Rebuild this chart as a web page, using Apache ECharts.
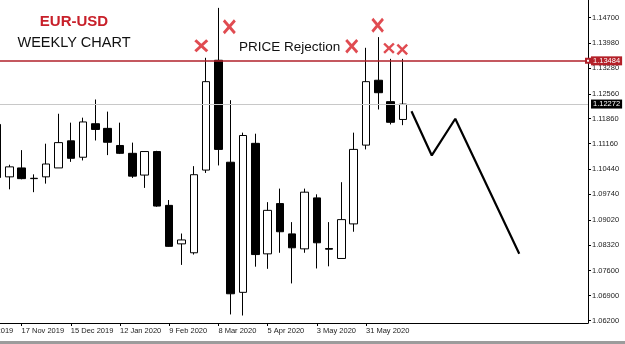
<!DOCTYPE html>
<html><head><meta charset="utf-8">
<script src="https://cdn.jsdelivr.net/npm/echarts@6/dist/echarts.min.js"></script>
<style>html,body{margin:0;padding:0;background:#fff;overflow:hidden}#c{width:625px;height:344px}</style>
</head><body><div id="c"></div>
<script>
// Weekly EUR-USD candles (week start dates), index 0 = 3 Nov 2019
const weeks = ['3 Nov 2019','10 Nov 2019','17 Nov 2019','24 Nov 2019','1 Dec 2019','8 Dec 2019','15 Dec 2019','22 Dec 2019','29 Dec 2019','5 Jan 2020','12 Jan 2020','19 Jan 2020','26 Jan 2020','2 Feb 2020','9 Feb 2020','16 Feb 2020','23 Feb 2020','1 Mar 2020','8 Mar 2020','15 Mar 2020','22 Mar 2020','29 Mar 2020','5 Apr 2020','12 Apr 2020','19 Apr 2020','26 Apr 2020','3 May 2020','10 May 2020','17 May 2020','24 May 2020','31 May 2020','7 Jun 2020','14 Jun 2020','21 Jun 2020'];
const opens  = [1.1170,1.1023,1.1048,1.1018,1.1023,1.1048,1.1124,1.1078,1.1172,1.1159,1.1111,1.1089,1.1028,1.1094,1.0943,1.0835,1.0810,1.1042,1.1350,1.1064,1.0699,1.1117,1.0807,1.0948,1.0863,1.0821,1.0964,1.0822,1.0794,1.0891,1.1112,1.1294,1.1234,1.1184];
const highs  = [1.1175,1.1057,1.1098,1.1030,1.1116,1.1200,1.1175,1.1189,1.1240,1.1206,1.1175,1.1119,1.1094,1.1096,1.0958,1.0864,1.1053,1.1357,1.1497,1.1238,1.1147,1.1144,1.0952,1.0990,1.0896,1.0990,1.0974,1.0896,1.1008,1.1147,1.1385,1.1415,1.1354,1.1354];
const lows   = [1.1010,1.0988,1.1016,1.0980,1.1004,1.1048,1.1065,1.1069,1.1125,1.1084,1.1087,1.1020,1.0992,1.0939,1.0827,1.0776,1.0805,1.1034,1.1055,1.0637,1.0634,1.0771,1.0765,1.0810,1.0724,1.0810,1.0766,1.0772,1.0794,1.0869,1.1100,1.1212,1.1170,1.1168];
const closes = [1.1021,1.1051,1.1018,1.1019,1.1059,1.1119,1.1075,1.1177,1.1156,1.1120,1.1089,1.1025,1.1094,1.0941,1.0828,1.0846,1.1029,1.1290,1.1100,1.0695,1.1139,1.0805,1.0929,1.0869,1.0824,1.0980,1.0838,1.0820,1.0903,1.1100,1.1290,1.1259,1.1176,1.1227];

// Axis ticks
const tickWeeks  = [-2,2,6,10,14,18,22,26,30];
const tickLabels = ['20 Oct 2019','17 Nov 2019','15 Dec 2019','12 Jan 2020','9 Feb 2020','8 Mar 2020','5 Apr 2020','3 May 2020','31 May 2020'];
const priceTicks = [1.14700,1.13980,1.13280,1.12560,1.11860,1.11160,1.10440,1.09740,1.09020,1.08320,1.07600,1.06900,1.06200];

// Levels
const resistance = 1.13484;
const lastPrice  = 1.12272;

// Hand-drawn projection path (week index, price)
const projWeek  = [33.7,35.35,37.26,42.46];
const projPrice = [1.1207,1.1083,1.1186,1.0807];

// Rejection crosses (week index, price, width, height)
const crossWeek  = [16.61,18.89,28.84,30.95,31.87,32.95];
const crossPrice = [1.13906,1.14439,1.13895,1.14484,1.13839,1.13802];
const crossW = [14,13,13,12.5,11.5,11.5];
const crossH = [13,15,14.5,15,11,11.5];

const candleData = weeks.map((w,i)=>[i, opens[i], closes[i], lows[i], highs[i]]);
const projData = projWeek.map((w,i)=>[w, projPrice[i]]);
const crossData = crossWeek.map((w,i)=>({value:[w, crossPrice[i]], symbolSize:[crossW[i], crossH[i]]}));

const tickName = v => { const k = tickWeeks.indexOf(Math.round(v)); return k>=0 ? tickLabels[k] : ''; };

const FF = '"Liberation Sans", Arial, sans-serif';
const chart = echarts.init(document.getElementById('c'), null, {renderer:'canvas'});
const axisFont = {fontFamily:FF, fontSize:7.5, color:'#222'};
const baseGraphic = [
  {type:'text', x:74, y:22, style:{text:'EUR-USD', fill:'#c8202a', font:'bold 15px '+FF, textAlign:'center', textVerticalAlign:'middle'}},
  {type:'text', x:74, y:43, style:{text:'WEEKLY CHART', fill:'#111', font:'14.5px '+FF, textAlign:'center', textVerticalAlign:'middle'}},
  {type:'text', x:239, y:47, style:{text:'PRICE Rejection', fill:'#111', font:'13.5px '+FF, textAlign:'left', textVerticalAlign:'middle'}},
  {type:'rect', shape:{x:0, y:341, width:625, height:3}, style:{fill:'#9c9c9c'}}
];
const boxLabel = (txt, bg) => ({show:true, position:'end', distance:3, formatter:txt, color:'#fff', backgroundColor:bg, padding:[1,2,0,2], fontSize:7.5, fontFamily:FF});
chart.setOption({
  animation:false,
  backgroundColor:'#ffffff',
  grid:{left:0, top:0, right:37, bottom:21},
  xAxis:{
    type:'value', min:0.244, max:48.05,
    axisLine:{show:true, lineStyle:{color:'#000', width:1}},
    splitLine:{show:false},
    axisTick:{show:true, length:3, customValues:tickWeeks.slice(1), lineStyle:{color:'#000'}},
    axisLabel:{customValues:tickWeeks.slice(1), formatter:tickName, align:'left', margin:4, ...axisFont}
  },
  yAxis:{
    type:'value', position:'right', min:1.06130, max:1.15191, scale:true,
    axisLine:{show:true, lineStyle:{color:'#000', width:1}},
    splitLine:{show:false},
    axisTick:{show:true, length:3, customValues:priceTicks, lineStyle:{color:'#000'}},
    axisLabel:{customValues:priceTicks, formatter:v=>v.toFixed(5), margin:4, ...axisFont}
  },
  series:[
    {
      type:'line', data:[], z:1,
      markLine:{
        silent:true, symbol:['none','none'], animation:false, precision:5,
        data:[{yAxis:lastPrice, lineStyle:{color:'#c8c8c8', width:1, type:'solid'}, label:boxLabel(lastPrice.toFixed(5), '#000')}]
      }
    },
    {
      type:'candlestick', data:candleData, encode:{x:0, y:[1,2,3,4]}, barWidth:8,
      itemStyle:{color:'#ffffff', color0:'#000000', borderColor:'#000000', borderColor0:'#000000', borderWidth:1},
      z:2
    },
    {
      type:'line', data:projData, showSymbol:false, symbol:'none',
      lineStyle:{color:'#000', width:2.2}, z:3,
      markLine:{
        silent:true, symbol:['none','emptyRect'], symbolSize:4, animation:false, precision:5,
        data:[{yAxis:resistance, lineStyle:{color:'#b0202a', width:1.5, type:'solid'}, label:boxLabel(resistance.toFixed(5), '#b42028')}]
      }
    },
    {
      type:'scatter', data:crossData,
      symbol:'path://M3,0 L10,7 L17,0 L20,3 L13,10 L20,17 L17,20 L10,13 L3,20 L0,17 L7,10 L0,3 Z',
      itemStyle:{color:'#d81e26'}, z:4
    }
  ],
  graphic:baseGraphic
});
// partially visible first date label at the left edge
const px = chart.convertToPixel({xAxisIndex:0}, tickWeeks[0]);
chart.setOption({graphic:baseGraphic.concat([
  {type:'text', x:px, y:327, style:{text:tickLabels[0], fill:'#222', font:'7.5px '+FF, textAlign:'left', textVerticalAlign:'top'}}
])}, {replaceMerge:['graphic']});
</script>
</body></html>
